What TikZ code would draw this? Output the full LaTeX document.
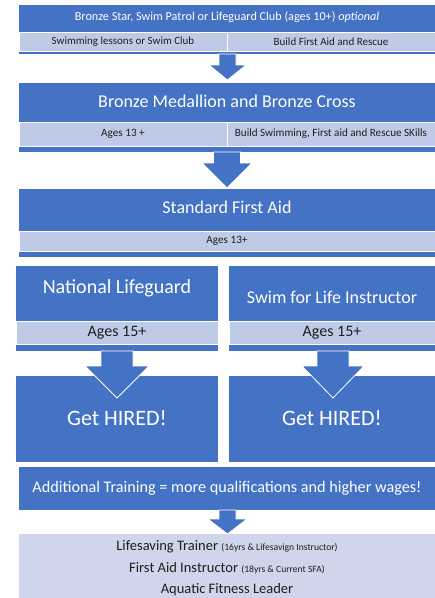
\documentclass[tikz,border=0pt]{standalone}
\usepackage{fontspec}
\setmainfont{Carlito}
\definecolor{dblue}{HTML}{4472C4}
\definecolor{band}{HTML}{BFCBE6}
\definecolor{pale}{HTML}{CFD5EA}
\definecolor{ink}{HTML}{1E1E1E}
\tikzset{
  pics/darrow/.style n args={4}{code={
    \filldraw[fill=dblue,draw=white,line width=0.8pt,line join=miter]
      (-#1,0) -- (-#1,#3) -- (-#2,#3) -- (0,#4) -- (#2,#3) -- (#1,#3) -- (#1,0) -- cycle;}}
}
\begin{document}
\begin{tikzpicture}[x=1pt,y=-1pt,
  blk/.style={fill=dblue,draw=none,inner sep=0pt,outer sep=0pt,anchor=north west},
  bnd/.style={fill=band,draw=white,line width=0.3pt,inner sep=0pt,outer sep=0pt,anchor=north west},
  pal/.style={fill=pale,draw=none,inner sep=0pt,outer sep=0pt,anchor=north west},
  wt/.style={text=white,inner sep=0pt,anchor=center},
  bt/.style={text=ink,inner sep=0pt,anchor=center}]
\useasboundingbox (0,0) rectangle (435,598);
% box 1
\node[blk,minimum width=416pt,minimum height=49pt] (b1) at (19,5) {};
\node[bnd,minimum width=208pt,minimum height=19pt] (b1l) at (19,32) {};
\node[bnd,minimum width=208pt,minimum height=19pt] (b1r) at (227,32) {};
\node[wt,font=\fontsize{12.2}{14}\selectfont] (t1) at (227,17.5) {Bronze Star, Swim Patrol or Lifeguard Club (ages 10+) \textit{optional}};
\node[bt,font=\fontsize{11}{13}\selectfont] (t1l) at (b1l.center) {Swimming lessons or Swim Club};
\node[bt,font=\fontsize{11}{13}\selectfont] (t1r) at (b1r.center) {Build First Aid and Rescue};
% box 2
\node[blk,minimum width=416pt,minimum height=69pt] (b2) at (19,83) {};
\node[bnd,minimum width=208pt,minimum height=24pt] (b2l) at (19,122) {};
\node[bnd,minimum width=208pt,minimum height=24pt] (b2r) at (227,122) {};
\node[wt,font=\fontsize{18}{21}\selectfont] (t2) at (227,101) {Bronze Medallion and Bronze Cross};
\node[bt,font=\fontsize{11.2}{13}\selectfont] (t2l) at (b2l.center) {Ages 13 +};
\node[bt,font=\fontsize{11.1}{13}\selectfont] (t2r) at (b2r.center) {Build Swimming, First aid and Rescue SKills};
% box 3
\node[blk,minimum width=416pt,minimum height=68pt] (b3) at (19,189) {};
\node[bnd,minimum width=416pt,minimum height=20pt] (b3b) at (19,231) {};
\node[wt,font=\fontsize{18}{21}\selectfont] (t3) at (227,207) {Standard First Aid};
\node[bt,font=\fontsize{11.2}{13}\selectfont] (t3b) at (b3b.center) {Ages 13+};
% box 4 left / right
\node[blk,minimum width=202pt,minimum height=85pt] (b4l) at (16,266) {};
\node[bnd,minimum width=202pt,minimum height=23pt] (b4lb) at (16,321) {};
\node[blk,minimum width=206pt,minimum height=85pt] (b4r) at (229,266) {};
\node[bnd,minimum width=206pt,minimum height=23pt] (b4rb) at (229,321) {};
\node[wt,font=\fontsize{20}{23}\selectfont] (t4l) at (117,288) {National Lifeguard};
\node[wt,font=\fontsize{18}{21}\selectfont] (t4r) at (332,297) {Swim for Life Instructor};
\node[bt,font=\fontsize{16}{18}\selectfont] (t4lb) at (b4lb.center) {Ages 15+};
\node[bt,font=\fontsize{16}{18}\selectfont] (t4rb) at (b4rb.center) {Ages 15+};
% hired boxes
\node[blk,minimum width=202pt,minimum height=86pt] (h1) at (16,376) {};
\node[blk,minimum width=206pt,minimum height=86pt] (h2) at (229,376) {};
\node[wt,font=\fontsize{22}{25}\selectfont] (th1) at (117,418) {Get HIRED!};
\node[wt,font=\fontsize{22}{25}\selectfont] (th2) at (332,418) {Get HIRED!};
% additional
\node[blk,minimum width=416pt,minimum height=43pt] (b5) at (19,467) {};
\node[wt,font=\fontsize{16.2}{19}\selectfont] (t5) at (b5.center) {Additional Training = more qualifications and higher wages!};
% final
\node[pal,minimum width=416pt,minimum height=64pt] (b6) at (19,534) {};
\node[bt,font=\fontsize{14.5}{17}\selectfont] (t6a) at (227,547) {Lifesaving Trainer {\fontsize{9.6}{11}\selectfont (16yrs \& Lifesavign Instructor)}};
\node[bt,font=\fontsize{14.5}{17}\selectfont] (t6b) at (227,568.5) {First Aid Instructor {\fontsize{9.6}{11}\selectfont (18yrs \& Current SFA)}};
\node[bt,font=\fontsize{14.5}{17}\selectfont] (t6c) at (227,590) {Aquatic Fitness Leader};
% arrows
\pic (a1) at (227.5,54) {darrow={8.5}{18.5}{11}{26}};
\pic (a2) at (227,152) {darrow={13.5}{25}{11}{36}};
\pic (a3) at (117,351) {darrow={16}{32}{15}{47}};
\pic (a4) at (333,351) {darrow={16}{31}{15}{47}};
\pic (a5) at (227.5,510) {darrow={8.5}{19.5}{9}{24}};
\end{tikzpicture}
\end{document}
